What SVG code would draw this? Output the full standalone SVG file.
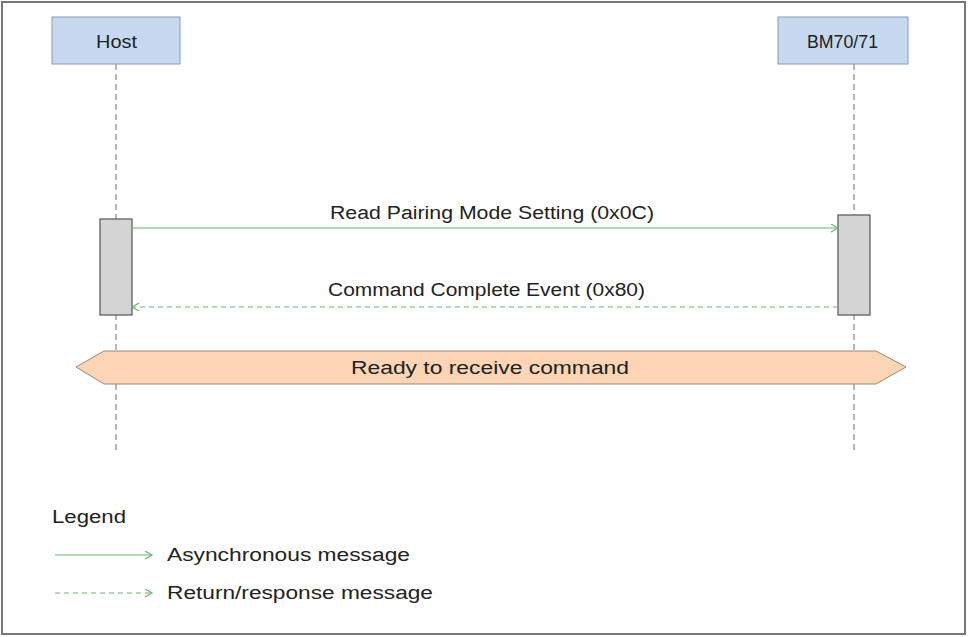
<svg xmlns="http://www.w3.org/2000/svg" width="968" height="637" viewBox="0 0 968 637">
<style>
text{font-family:"Liberation Sans",Arial,sans-serif;fill:#222;font-size:18px}
.hd{fill:#c6d9f1;stroke:#8a9bb0;stroke-width:1}
.life{stroke:#888;stroke-width:1.2;stroke-dasharray:6,4}
.act{fill:#d4d4d4;stroke:#555;stroke-width:1.2}
.msg{stroke:#6ab56a;stroke-width:1.2;fill:none}
.ret{stroke:#6ab56a;stroke-width:1.2;fill:none;stroke-dasharray:5,4}
</style>
<defs>
<marker id="ah" markerWidth="10" markerHeight="10" refX="8" refY="4" orient="auto" markerUnits="userSpaceOnUse"><path d="M1,0 L8,4 L1,8" fill="none" stroke="#6ab56a" stroke-width="1.2"/></marker>
</defs>
<rect x="0" y="0" width="968" height="637" fill="#fff"/>
<rect x="2" y="2" width="963" height="632" fill="none" stroke="#777" stroke-width="2"/>
<g id="host"><rect class="hd" x="52" y="17" width="128" height="47"/><text x="96" y="48" textLength="41" lengthAdjust="spacingAndGlyphs">Host</text></g>
<g id="bm"><rect class="hd" x="778" y="17" width="130" height="47"/><text x="807" y="48" textLength="71" lengthAdjust="spacingAndGlyphs">BM70/71</text></g>
<g id="lifelines">
<line class="life" x1="116" y1="64" x2="116" y2="452"/>
<line class="life" x1="854" y1="64" x2="854" y2="452"/>
</g>
<g id="act-host"><rect class="act" x="100" y="219" width="32" height="96"/></g>
<g id="act-bm"><rect class="act" x="838" y="215" width="32" height="100"/></g>
<g id="connectors">
<line class="msg" x1="132" y1="228" x2="838" y2="228" marker-end="url(#ah)"/>
<line class="ret" x1="838" y1="307" x2="132" y2="307" marker-end="url(#ah)"/>
<line class="msg" x1="55" y1="555" x2="152" y2="555" marker-end="url(#ah)"/>
<line class="ret" x1="55" y1="593" x2="152" y2="593" marker-end="url(#ah)"/>
</g>
<text x="330" y="219" textLength="324" lengthAdjust="spacingAndGlyphs">Read Pairing Mode Setting (0x0C)</text>
<text x="328" y="296" textLength="317" lengthAdjust="spacingAndGlyphs">Command Complete Event (0x80)</text>
<g id="banner"><polygon points="76,367 104,351 876,351 906,367 876,384 104,384" fill="#fbd5b5" stroke="#9a8a7a" stroke-width="1"/>
<text x="351" y="374" textLength="278" lengthAdjust="spacingAndGlyphs">Ready to receive command</text></g>
<g id="legend">
<text x="52" y="523" textLength="74" lengthAdjust="spacingAndGlyphs">Legend</text>
<text x="167" y="561" textLength="243" lengthAdjust="spacingAndGlyphs">Asynchronous message</text>
<text x="167" y="599" textLength="266" lengthAdjust="spacingAndGlyphs">Return/response message</text>
</g>
</svg>
